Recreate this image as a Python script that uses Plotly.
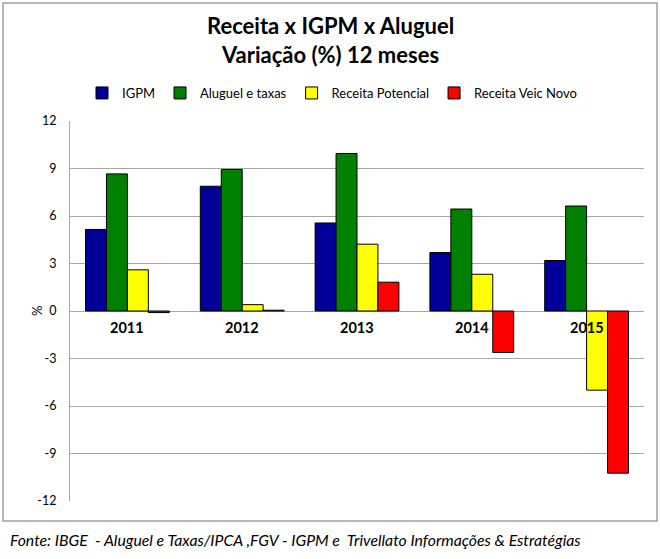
import plotly.graph_objects as go

anos = ["2011", "2012", "2013", "2014", "2015"]
igpm = [5.15, 7.88, 5.56, 3.69, 3.19]
aluguel = [8.66, 8.94, 9.95, 6.44, 6.63]
receita_potencial = [2.6, 0.4, 4.22, 2.32, -5.0]
receita_veic_novo = [-0.1, 0.05, 1.82, -2.62, -10.24]
series_nomes = ["IGPM", "Aluguel e taxas", "Receita Potencial", "Receita Veic Novo"]
cores = ["#000099", "#008000", "#FFFF00", "#FF0000"]
y_ticks = [12, 9, 6, 3, 0, -3, -6, -9, -12]

W, H = 660, 559
ml, mr, mt, mb = 70, 16, 121, 58
pw, ph = W - ml - mr, H - mt - mb

def px_x(x):
    return (x - ml) / pw

def px_y(y):
    return 1 - (y - mt) / ph

fig = go.Figure()
for nome, vals, cor in zip(series_nomes, [igpm, aluguel, receita_potencial, receita_veic_novo], cores):
    fig.add_trace(go.Bar(
        x=anos, y=vals, name=nome,
        marker=dict(color=cor, line=dict(color="#000000", width=1)),
    ))

font_main = "Lato, 'Open Sans', sans-serif"

annotations = []
for i, a in enumerate(anos):
    annotations.append(dict(
        x=i, y=0, xref="x", yref="y", text=f"<b>{a}</b>", showarrow=False,
        yanchor="top", yshift=-6, font=dict(size=14.5, color="#000000", family=font_main),
    ))
annotations.append(dict(
    x=px_x(27), y=0, xref="paper", yref="y", text="%", textangle=-90, showarrow=False,
    font=dict(size=13, color="#000000", family=font_main),
))
annotations.append(dict(
    x=px_x(8), y=px_y(539), xref="paper", yref="paper", xanchor="left", yanchor="middle",
    text="<i>Fonte: IBGE  - Aluguel e Taxas/IPCA ,FGV - IGPM e  Trivellato Informações &amp; Estratégias</i>",
    showarrow=False, font=dict(size=15.8, color="#000000", family=font_main),
))
annotations.append(dict(
    x=px_x(330), y=px_y(40), xref="paper", yref="paper", xanchor="center", yanchor="middle",
    text="<b>Receita x IGPM x Aluguel<br>Variação (%) 12 meses</b>", showarrow=False,
    font=dict(size=22, color="#000000", family=font_main),
))

fig.update_layout(
    width=W, height=H,
    margin=dict(l=ml, r=mr, t=mt, b=mb, autoexpand=False),
    paper_bgcolor="white", plot_bgcolor="white",
    legend=dict(
        orientation="h", x=px_x(332), xanchor="center",
        y=px_y(93), yanchor="middle",
        font=dict(size=13, color="#000000", family=font_main),
        itemwidth=30, tracegroupgap=0,
    ),
    bargap=0.27, bargroupgap=0,
    xaxis=dict(type="category", range=[-0.5, len(anos) - 0.5],
               showticklabels=False, showgrid=False, zeroline=False, showline=False, ticks=""),
    yaxis=dict(
        range=[-12, 12], tickvals=y_ticks, ticktext=[str(v) for v in y_ticks],
        showgrid=True, gridcolor="#a6a6a6", gridwidth=1,
        zeroline=True, zerolinecolor="#a6a6a6", zerolinewidth=1,
        showline=True, linecolor="#a6a6a6", linewidth=1,
        ticks="", ticklabelstandoff=10,
        tickfont=dict(size=12.5, color="#000000", family=font_main),
    ),
    annotations=annotations,
    shapes=[dict(
        type="rect", xref="paper", yref="paper",
        x0=px_x(3), x1=px_x(657), y0=px_y(521), y1=px_y(3),
        line=dict(color="#a0a0a0", width=1.5), fillcolor="rgba(0,0,0,0)", layer="below",
    )],
)

fig.write_html("out.html", config={"displayModeBar": False},
               post_script="document.body.style.margin='0';")
